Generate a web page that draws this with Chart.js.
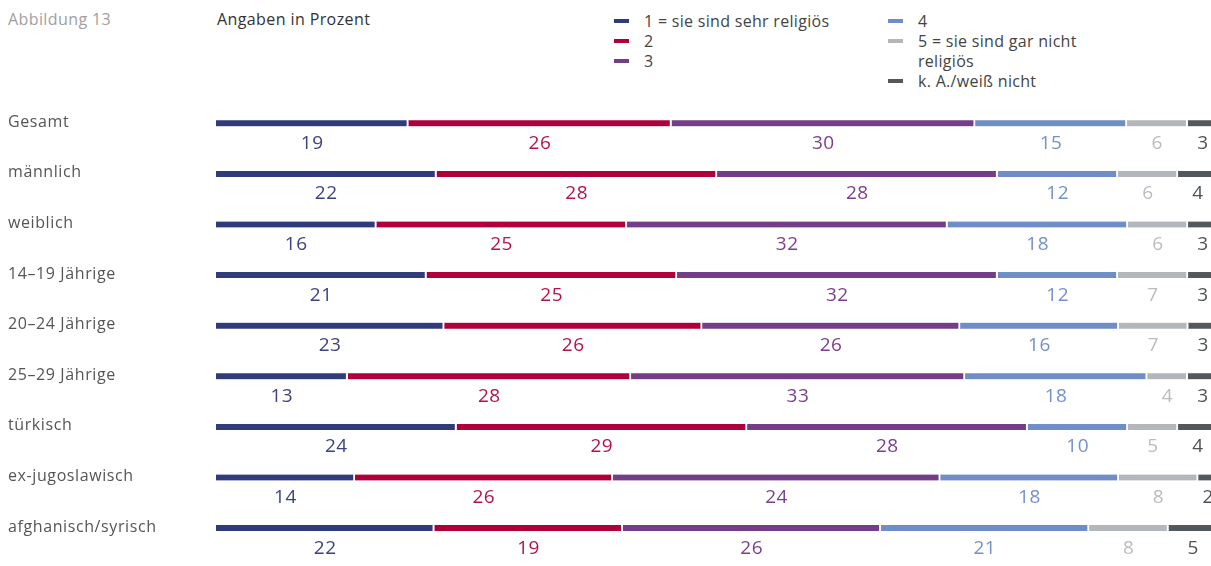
<!DOCTYPE html>
<html>
<head>
<meta charset="utf-8">
<script src="https://cdn.jsdelivr.net/npm/chart.js@4/dist/chart.umd.min.js"></script>
<style>
  body { margin: 0; background: #fff; font-family: "Open Sans", sans-serif; }
  #wrap { position: relative; width: 1211px; height: 566px; overflow: hidden; }
  #grafik { position: absolute; left: 0; top: 0; }
  .kopf { position: absolute; top: 9px; font-size: 16px; line-height: 20px; letter-spacing: 0.4px; }
  .leg { position: absolute; font-size: 16px; line-height: 20px; color: #444; letter-spacing: 0.3px; }
  .leg .m { position: absolute; left: 0; top: 8px; width: 15px; height: 4px; }
  .leg .t { position: absolute; left: 30px; }
</style>
</head>
<body>
<div id="wrap">
  <div class="kopf" style="left:8px;color:#a0a0a0">Abbildung 13</div>
  <div class="kopf" style="left:217px;color:#333">Angaben in Prozent</div>
  <div id="legende"></div>
  <canvas id="grafik" width="1218" height="566"></canvas>
</div>
<script>
var kategorien = ['Gesamt', 'männlich', 'weiblich', '14–19 Jährige', '20–24 Jährige',
	'25–29 Jährige', 'türkisch', 'ex-jugoslawisch', 'afghanisch/syrisch'];

var reihen = ['1 = sie sind sehr religiös', '2', '3', '4',
	'5 = sie sind gar nicht religiös', 'k. A./weiß nicht'];

var sehr     = [19, 22, 16, 21, 23, 13, 24, 14, 22];
var stufe2   = [26, 28, 25, 25, 26, 28, 29, 26, 19];
var stufe3   = [30, 28, 32, 32, 26, 33, 28, 33, 26];
var stufe4   = [15, 12, 18, 12, 16, 18, 10, 18, 21];
var garnicht = [6, 6, 6, 7, 7, 4, 5, 8, 8];
var keineA   = [3, 4, 3, 3, 3, 3, 4, 2, 5];

// bar for ex-jugoslawisch/3 is 33 long, but the printed label says 24
var aufdruck = { '7-2': '24' };

var warna = ['#2f3b7a', '#b0003a', '#733d87', '#6f8dc6', '#b3b6bb', '#52585c'];
var warnaText = ['#3b4380', '#b3134b', '#7a3f8c', '#7391c9', '#b9bcc1', '#4d5357'];

// legend (html, two columns)
var leg = document.getElementById('legende');
var posisi = [[614, 11], [614, 31], [614, 51], [888, 11], [888, 31], [888, 71]];
reihen.forEach(function(nama, i){
	var d = document.createElement('div');
	d.className = 'leg';
	d.style.left = posisi[i][0] + 'px';
	d.style.top = posisi[i][1] + 'px';
	var lebar = posisi[i][0] < 800 ? 250 : 172;
	d.innerHTML = '<span class="m" style="background:' + warna[i] + '"></span>' +
		'<span class="t" style="width:' + lebar + 'px">' + nama + '</span>';
	leg.appendChild(d);
});

var semua = [sehr, stufe2, stufe3, stufe4, garnicht, keineA];
// each row is drawn as 100 % of the full width
var summe = kategorien.map(function(k, j){
	var s = 0;
	semua.forEach(function(r){ s += r[j]; });
	return s;
});
var datasets = semua.map(function(werte, i){
	return {
		label: reihen[i],
		data: werte.map(function(v, j){ return v / summe[j] * 100; }),
		roh: werte,
		backgroundColor: warna[i],
		borderColor: '#ffffff',
		borderWidth: {top: 0, bottom: 0, left: 0, right: 2},
		borderSkipped: false,
		barThickness: 6
	};
});

var angka = {
	id: 'angka',
	beforeDraw: function(chart){
		chart.ctx.letterSpacing = '0.6px';
	},
	afterDatasetsDraw: function(chart){
		var ctx = chart.ctx;
		ctx.save();
		ctx.font = '19px "Open Sans"';
		ctx.letterSpacing = '0.5px';
		ctx.textAlign = 'center';
		ctx.textBaseline = 'middle';
		chart.data.datasets.forEach(function(ds, i){
			var meta = chart.getDatasetMeta(i);
			meta.data.forEach(function(el, j){
				var teks = aufdruck[j + '-' + i] || String(ds.roh[j]);
				ctx.fillStyle = warnaText[i];
				ctx.fillText(teks, (el.x + el.base) / 2, el.y + 20);
			});
		});
		ctx.restore();
	}
};

new Chart(document.getElementById('grafik'), {
	type: 'bar',
	data: { labels: kategorien, datasets: datasets },
	options: {
		indexAxis: 'y',
		responsive: false,
		animation: false,
		layout: { padding: { top: 98, bottom: 9, left: 8, right: 0 } },
		plugins: { legend: { display: false }, tooltip: { enabled: false } },
		scales: {
			x: { stacked: true, display: false, min: 0, max: 100 },
			y: {
				stacked: true,
				grid: { display: false },
				border: { display: false },
				afterFit: function(scale){ scale.width = 208; },
				ticks: {
					crossAlign: 'far',
					labelOffset: -1,
					color: '#555',
					font: { family: 'Open Sans', size: 16 }
				}
			}
		}
	},
	plugins: [angka]
});
</script>
</body>
</html>
